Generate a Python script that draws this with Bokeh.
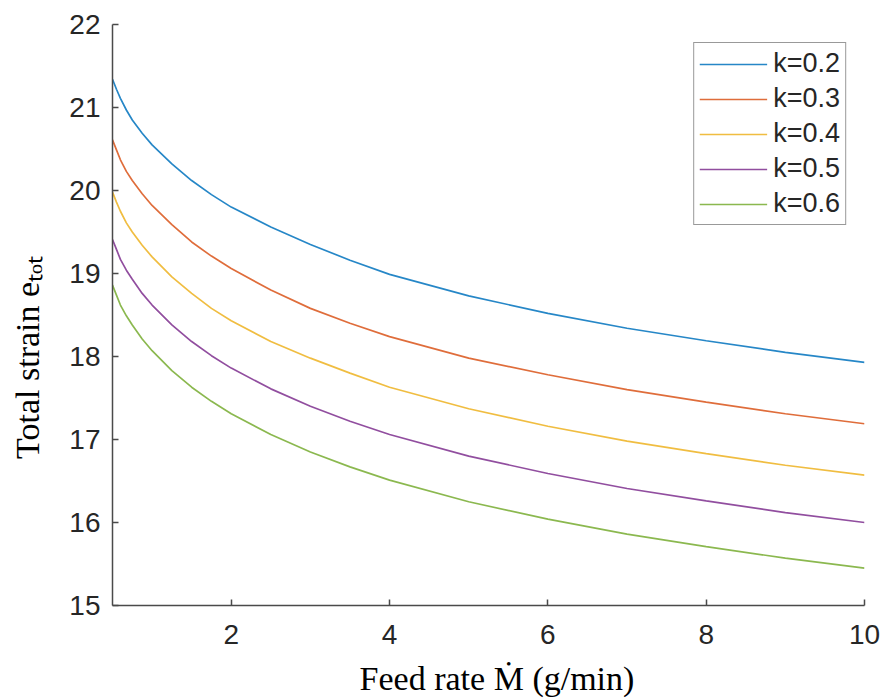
from bokeh.plotting import figure
from bokeh.models import Range1d, FixedTicker
from bokeh.embed import file_html
from bokeh.resources import INLINE

# ---- data ----
feed_rate = [0.5, 0.55, 0.6, 0.675, 0.75, 0.875, 1.0, 1.25, 1.5, 1.75, 2.0, 2.5, 3.0, 3.5,
             4.0, 5.0, 6.0, 7.0, 8.0, 9.0, 10.0]
k02 = [21.34, 21.22, 21.11, 20.97, 20.85, 20.69, 20.55, 20.32, 20.12, 19.95, 19.80, 19.56, 19.35, 19.16,
       18.99, 18.73, 18.52, 18.34, 18.19, 18.05, 17.93]
k03 = [20.61, 20.49, 20.37, 20.23, 20.12, 19.96, 19.82, 19.59, 19.38, 19.21, 19.06, 18.80, 18.58, 18.40,
       18.24, 17.98, 17.78, 17.60, 17.45, 17.31, 17.19]
k04 = [19.98, 19.86, 19.75, 19.61, 19.50, 19.34, 19.20, 18.96, 18.76, 18.58, 18.43, 18.18, 17.98, 17.80,
       17.63, 17.37, 17.16, 16.98, 16.83, 16.69, 16.57]
k05 = [19.41, 19.29, 19.17, 19.04, 18.93, 18.76, 18.62, 18.38, 18.18, 18.01, 17.86, 17.61, 17.40, 17.22,
       17.06, 16.80, 16.59, 16.41, 16.26, 16.12, 16.00]
k06 = [18.86, 18.74, 18.62, 18.49, 18.38, 18.21, 18.07, 17.83, 17.63, 17.46, 17.31, 17.06, 16.85, 16.67,
       16.51, 16.25, 16.04, 15.86, 15.71, 15.57, 15.45]
series_labels = ["k=0.2", "k=0.3", "k=0.4", "k=0.5", "k=0.6"]
series_values = [k02, k03, k04, k05, k06]
series_colors = ["#0072BD", "#D95319", "#EDB120", "#7E2F8E", "#77AC30"]
x_ticks = [2, 4, 6, 8, 10]
y_ticks = [15, 16, 17, 18, 19, 20, 21, 22]
x_label = "Feed rate \u1E40 (g/min)"
y_label = "Total strain e\u209C\u2092\u209C"

NBSP = "\u00a0"

p = figure(width=884, height=700,
           x_range=Range1d(0.5, 10), y_range=Range1d(15, 22),
           output_backend="svg", toolbar_location=None,
           min_border_left=112, min_border_right=20,
           min_border_top=24, min_border_bottom=95)
p.outline_line_color = None
p.grid.visible = False
p.background_fill_color = "white"
p.border_fill_color = "white"

for lab, vals, col in zip(series_labels, series_values, series_colors):
    p.line(feed_rate, vals, line_color=col, line_width=1.7, line_alpha=0.85,
           legend_label=lab)

for ax in (p.xaxis[0], p.yaxis[0]):
    ax.axis_line_color = "#4a4a4a"
    ax.axis_line_width = 1.5
    ax.major_tick_line_color = "#4a4a4a"
    ax.major_tick_line_width = 1.5
    ax.major_tick_in = 6
    ax.major_tick_out = 0
    ax.minor_tick_line_color = None
    ax.major_label_text_font = "Liberation Sans"
    ax.major_label_text_font_size = "28px"
    ax.major_label_text_color = "#262626"
    ax.axis_label_text_font = "Liberation Serif"
    ax.axis_label_text_font_size = "34px"
    ax.axis_label_text_font_style = "normal"
    ax.axis_label_text_color = "black"

p.xaxis[0].ticker = FixedTicker(ticks=x_ticks)
p.yaxis[0].ticker = FixedTicker(ticks=y_ticks)
p.xaxis[0].major_label_standoff = 19
p.yaxis[0].major_label_standoff = 12
# the reference titles sit slightly off the axis centres
p.xaxis[0].axis_label = NBSP * 2 + x_label
p.yaxis[0].axis_label = y_label + NBSP * 10
p.xaxis[0].axis_label_standoff = 13
p.yaxis[0].axis_label_standoff = 20

lg = p.legend[0]
lg.location = "top_right"
lg.margin = 18
lg.border_line_color = "#333333"
lg.border_line_width = 1
lg.background_fill_color = "white"
lg.background_fill_alpha = 1
lg.label_text_font = "Liberation Sans"
lg.label_text_font_size = "27px"
lg.label_text_color = "#262626"
lg.glyph_width = 68
lg.glyph_height = 30
lg.label_height = 30
lg.label_standoff = 6
lg.spacing = 4
lg.padding = 5

open("out.html", "w").write(file_html(p, INLINE))
